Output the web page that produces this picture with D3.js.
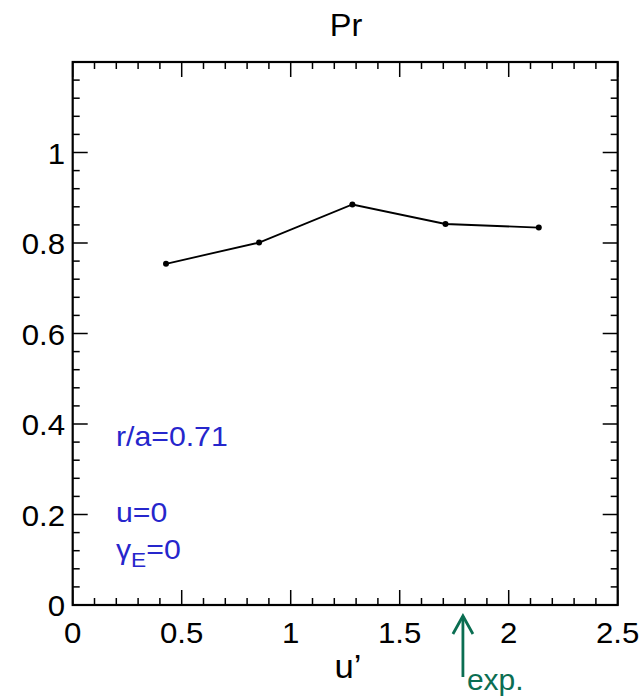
<!DOCTYPE html>
<html><head><meta charset="utf-8">
<script src="https://cdn.jsdelivr.net/npm/d3@7"></script>
<style>body{margin:0;background:#fff}svg{display:block}text{font-family:"Liberation Sans",Arial,sans-serif}</style>
</head><body>
<script>
const xValues = [0.428, 0.855, 1.283, 1.71, 2.138];
const prValues = [0.754, 0.801, 0.885, 0.842, 0.834];
const xTicks = [0, 0.5, 1, 1.5, 2, 2.5];
const yTicks = [0, 0.2, 0.4, 0.6, 0.8, 1];
const expMarker = 1.79;

const W = 643, H = 696;
const m = {l: 72.7, r: 617.7, t: 62, b: 605};
const svg = d3.select("body").append("svg").attr("width", W).attr("height", H);
const x = d3.scaleLinear().domain([0, 2.5]).range([m.l, m.r]);
const y = d3.scaleLinear().domain([0, 1.2]).range([m.b, m.t]);

function stext(parent, tx, ty, sx, size, anchor, str, fill) {
  return parent.append("text")
    .attr("transform", `translate(${tx},${ty}) scale(${sx},1)`)
    .attr("font-size", size).attr("text-anchor", anchor).attr("fill", fill || "#000").text(str);
}

// ticks
const xMinor = d3.range(0, 2.5001, 0.1);
const yMinor = d3.range(0, 1.2001, 0.04);
const g = svg.append("g").attr("stroke", "#000");
xMinor.forEach(v => {
  const major = Math.abs(v / 0.5 - Math.round(v / 0.5)) < 1e-6;
  const len = major ? 15 : 7;
  g.append("line").attr("x1", x(v)).attr("x2", x(v)).attr("y1", m.b).attr("y2", m.b - len).attr("stroke-width", 1.5);
  g.append("line").attr("x1", x(v)).attr("x2", x(v)).attr("y1", m.t).attr("y2", m.t + len).attr("stroke-width", 1.5);
});
yMinor.forEach(v => {
  const major = Math.abs(v / 0.2 - Math.round(v / 0.2)) < 1e-6;
  const len = major ? 15 : 7;
  g.append("line").attr("y1", y(v)).attr("y2", y(v)).attr("x1", m.l).attr("x2", m.l + len).attr("stroke-width", 1.5);
  g.append("line").attr("y1", y(v)).attr("y2", y(v)).attr("x1", m.r).attr("x2", m.r - len).attr("stroke-width", 1.5);
});
svg.append("rect").attr("x", m.l).attr("y", m.t).attr("width", m.r - m.l).attr("height", m.b - m.t)
  .attr("fill", "none").attr("stroke", "#000").attr("stroke-width", 2.2);

// tick labels
const fmt = d3.format("");
xTicks.forEach(d => stext(svg, x(d), 643, 1.04, 30, "middle", fmt(d)));
yTicks.forEach(d => stext(svg, 65, y(d) + 11, 1.04, 30, "end", fmt(d)));

// titles
stext(svg, 346, 36, 1.05, 31, "middle", "Pr");
stext(svg, 348, 678, 1.05, 33, "middle", "u\u2019");

// line + points
const line = d3.line().x((d, i) => x(xValues[i])).y(d => y(d));
svg.append("path").datum(prValues).attr("d", line).attr("fill", "none").attr("stroke", "#000").attr("stroke-width", 1.8);
svg.selectAll(".pt").data(prValues).join("circle").attr("cx", (d, i) => x(xValues[i])).attr("cy", d => y(d))
  .attr("r", 3).attr("fill", "#000");

// annotations
const blue = "#2626cc";
stext(svg, 116, 446, 1.08, 28, "start", "r/a=0.71", blue);
stext(svg, 116, 521.5, 1.08, 28, "start", "u=0", blue);
const ge = stext(svg, 116, 559, 1.08, 28, "start", "", blue);
ge.append("tspan").text("\u03b3");
ge.append("tspan").attr("font-size", 21).attr("dy", 8).text("E");
ge.append("tspan").attr("dy", -8).text("=0");

// exp arrow
const green = "#0b6e52";
const ax = x(expMarker);
const ag = svg.append("g").attr("stroke", green).attr("stroke-width", 2.8).attr("fill", "none");
ag.append("line").attr("x1", ax).attr("x2", ax).attr("y1", 616).attr("y2", 677);
ag.append("path").attr("d", `M${ax - 10},${634} L${ax},${616} L${ax + 10},${634}`);
stext(svg, ax + 4, 690, 1.0, 30, "start", "exp.", green);
</script>
</body></html>
